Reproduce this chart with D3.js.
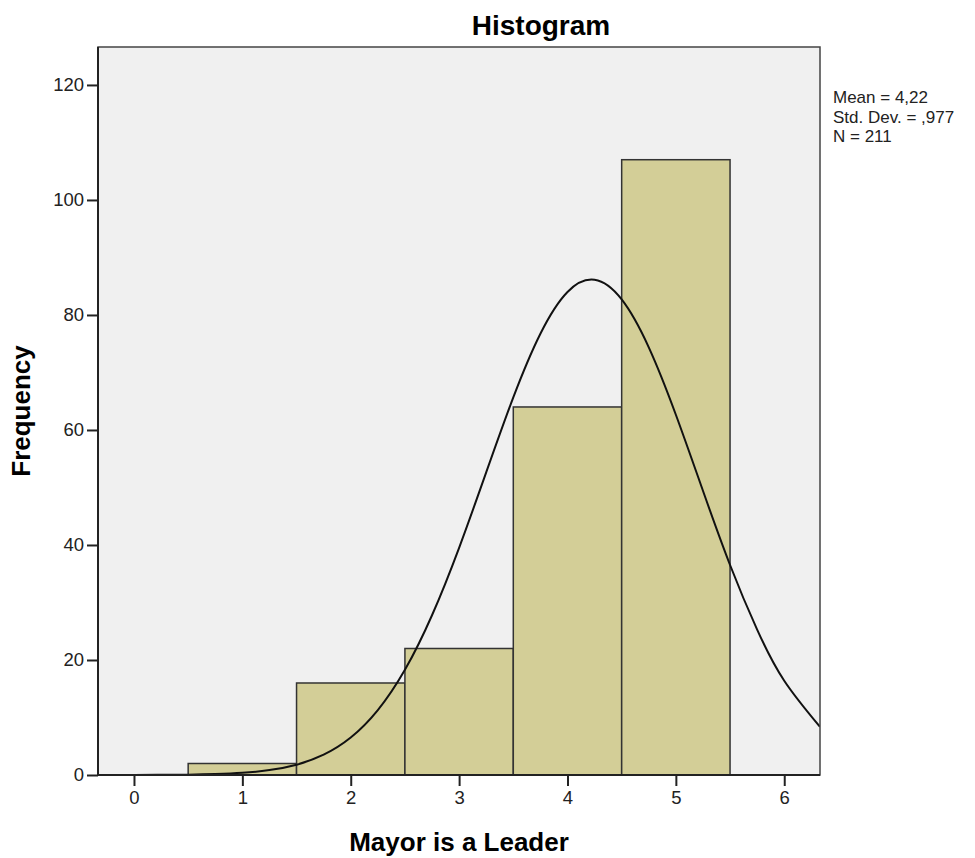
<!DOCTYPE html>
<html lang="en">
<head>
    <meta charset="UTF-8">
    <title>Histogram</title>
    <script src="https://cdnjs.cloudflare.com/ajax/libs/d3/7.8.5/d3.min.js"></script>
    <style>
        body {
            margin: 0;
            background-color: white;
            font-family: "Liberation Sans", Arial, sans-serif;
        }
        .tick text {
            font-family: "Liberation Sans", Arial, sans-serif;
            font-size: 18.5px;
            fill: #222;
        }
    </style>
</head>
<body>
    <svg id="chart"></svg>
    <script>
        // bins: [lower, upper] edges and counts
        const binStart = [-0.5, 0.5, 1.5, 2.5, 3.5, 4.5];
        const binEnd = [0.5, 1.5, 2.5, 3.5, 4.5, 5.5];
        const counts = [0, 2, 16, 22, 64, 107];

        // normal curve
        const curveX = [-0.33, 0, 0.5, 0.75, 1, 1.25, 1.5, 1.75, 2, 2.25, 2.5, 2.75, 3, 3.25, 3.5, 3.75, 4, 4.25, 4.5, 4.75, 5, 5.25, 5.5, 5.75, 6, 6.33];
        const curveY = [0, 0.01, 0.06, 0.16, 0.38, 0.85, 1.79, 3.53, 6.51, 11.28, 18.29, 27.78, 39.51, 52.63, 65.67, 76.74, 84.0, 86.12, 82.7, 74.37, 62.65, 49.43, 36.52, 25.28, 16.39, 8.37];

        const xTicks = [0, 1, 2, 3, 4, 5, 6];
        const yTicks = [0, 20, 40, 60, 80, 100, 120];
        const legendLines = ["Mean = 4,22", "Std. Dev. = ,977", "N = 211"];

        const width = 975;
        const height = 858;
        const plotLeft = 98, plotRight = 820, plotTop = 47, plotBottom = 775;

        const svg = d3.select("#chart")
            .attr("width", width)
            .attr("height", height);

        const x = d3.scaleLinear().domain([-0.332, 6.33]).range([plotLeft, plotRight]);
        const y = d3.scaleLinear().domain([0, 126.6]).range([plotBottom, plotTop]);

        svg.append("defs").append("clipPath")
            .attr("id", "plot-clip")
            .append("rect")
            .attr("x", plotLeft).attr("y", plotTop)
            .attr("width", plotRight - plotLeft).attr("height", plotBottom - plotTop);

        // plot background
        svg.append("rect")
            .attr("x", plotLeft).attr("y", plotTop)
            .attr("width", plotRight - plotLeft).attr("height", plotBottom - plotTop)
            .attr("fill", "#f0f0f0");

        // bars
        svg.append("g")
            .selectAll("rect")
            .data(counts)
            .join("rect")
            .attr("x", (d, i) => x(binStart[i]))
            .attr("y", d => y(d))
            .attr("width", (d, i) => x(binEnd[i]) - x(binStart[i]))
            .attr("height", d => y(0) - y(d))
            .attr("fill", "#d3ce97")
            .attr("stroke", "#333")
            .attr("stroke-width", 1.5);

        // normal curve
        const line = d3.line()
            .x((d, i) => x(curveX[i]))
            .y(d => y(d))
            .curve(d3.curveNatural);

        svg.append("path")
            .datum(curveY)
            .attr("clip-path", "url(#plot-clip)")
            .attr("d", line)
            .attr("fill", "none")
            .attr("stroke", "#111")
            .attr("stroke-width", 2);

        // frame
        svg.append("rect")
            .attr("x", plotLeft).attr("y", plotTop)
            .attr("width", plotRight - plotLeft).attr("height", plotBottom - plotTop)
            .attr("fill", "none")
            .attr("stroke", "#444")
            .attr("stroke-width", 1.5);

        // axes
        const xAxis = svg.append("g")
            .attr("transform", "translate(0," + plotBottom + ")")
            .call(d3.axisBottom(x).tickValues(xTicks).tickSize(11).tickPadding(5).tickFormat(d3.format("d")));
        xAxis.select(".domain").remove();
        xAxis.selectAll(".tick line").attr("stroke", "#222").attr("stroke-width", 2);

        const yAxis = svg.append("g")
            .attr("transform", "translate(" + plotLeft + ",0)")
            .call(d3.axisLeft(y).tickValues(yTicks).tickSize(11).tickPadding(3).tickFormat(d3.format("d")));
        yAxis.select(".domain").remove();
        yAxis.selectAll(".tick line").attr("stroke", "#222").attr("stroke-width", 2);

        svg.append("line")
            .attr("x1", plotLeft).attr("x2", plotRight)
            .attr("y1", plotBottom).attr("y2", plotBottom)
            .attr("stroke", "#222").attr("stroke-width", 2);
        svg.append("line")
            .attr("x1", plotLeft).attr("x2", plotLeft)
            .attr("y1", plotTop).attr("y2", plotBottom)
            .attr("stroke", "#222").attr("stroke-width", 2);

        // titles
        svg.append("text")
            .attr("x", 541).attr("y", 35)
            .attr("text-anchor", "middle")
            .attr("font-size", 28)
            .attr("font-weight", "bold")
            .text("Histogram");

        svg.append("text")
            .attr("x", (plotLeft + plotRight) / 2).attr("y", 851)
            .attr("text-anchor", "middle")
            .attr("font-size", 26)
            .attr("font-weight", "bold")
            .text("Mayor is a Leader");

        svg.append("text")
            .attr("transform", "translate(30," + (plotTop + plotBottom) / 2 + ") rotate(-90)")
            .attr("text-anchor", "middle")
            .attr("font-size", 26)
            .attr("font-weight", "bold")
            .text("Frequency");

        // legend
        svg.append("g")
            .selectAll("text")
            .data(legendLines)
            .join("text")
            .attr("x", 833)
            .attr("y", (d, i) => 103 + i * 19.6)
            .attr("font-size", 17)
            .attr("fill", "#222")
            .text(d => d);
    </script>
</body>
</html>
